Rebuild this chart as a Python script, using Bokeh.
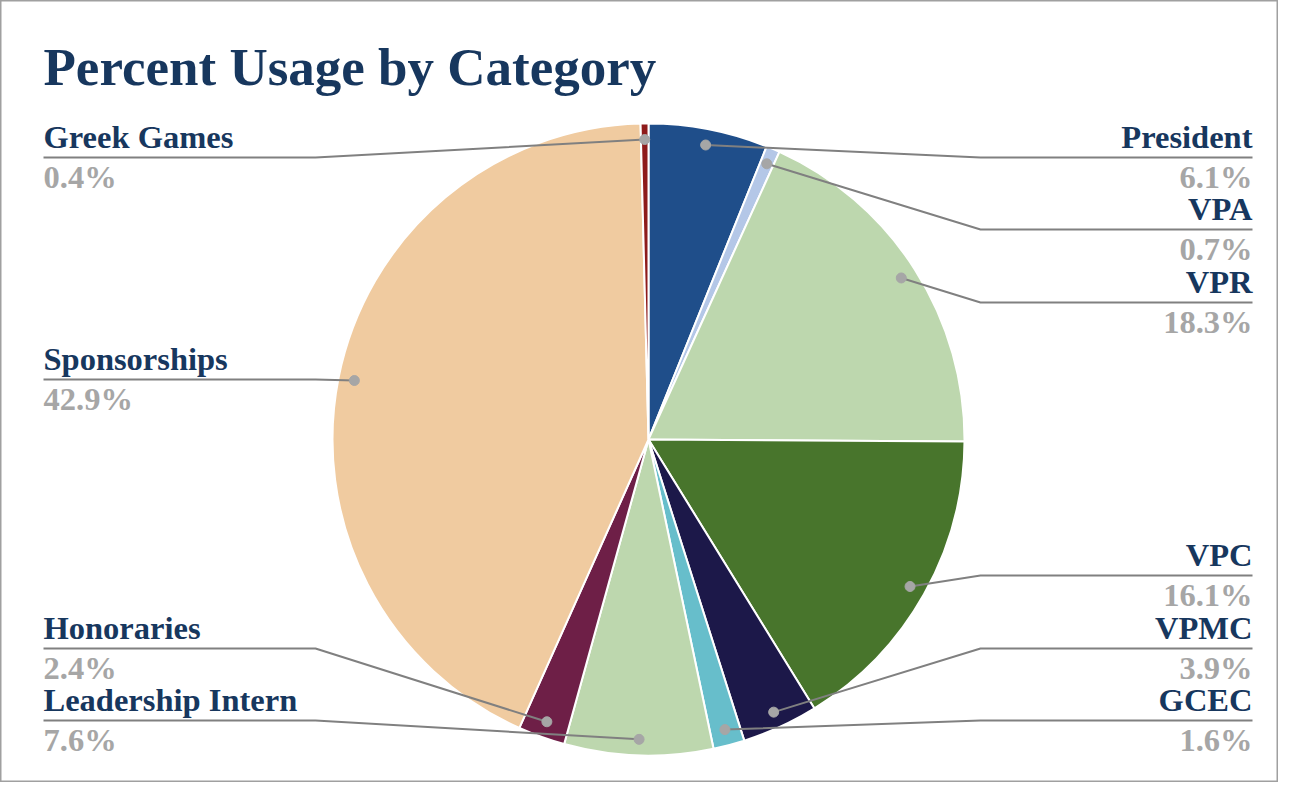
import math
from bokeh.plotting import figure
from bokeh.models import Range1d
from bokeh.core.properties import value
from bokeh.embed import file_html
from bokeh.resources import INLINE

# ---- data ----
categories = ["President", "VPA", "VPR", "VPC", "VPMC", "GCEC",
              "Leadership Intern", "Honoraries", "Sponsorships", "Greek Games"]
percents = [6.1, 0.7, 18.3, 16.1, 3.9, 1.6, 7.6, 2.4, 42.9, 0.4]
colors = ["#1F4E8A", "#B4C7E7", "#BDD7AE", "#48752C", "#1C1849", "#67BECB",
          "#BDD7AE", "#6E1F47", "#F0CBA0", "#8E1B1B"]
title_text = "Percent Usage by Category"

# ---- layout (reference pixel space, y downwards) ----
H = 798
CX, CY, R, R_DOT = 648, 439, 316, 300
label_side = ["right", "right", "right", "right", "right", "right",
              "left", "left", "left", "left"]
underline_y = [157, 229, 302, 575, 648, 720, 720, 648, 379, 157]
LEFT_X, LEFT_ELBOW = 43, 315
RIGHT_X, RIGHT_ELBOW = 1252, 980
LABEL_SIZE = 32.5
TITLE_SIZE = 53
BASE_SHIFT = 0.33  # empirical baseline correction (em)

NAME_COLOR = "#17375E"
VALUE_COLOR = "#A6A6A6"
LINE_COLOR = "#808080"
FONT = "Liberation Serif"


def Y(y):
    return H - y


def TY(baseline, size):
    return Y(baseline - BASE_SHIFT * size)


p = figure(width=1278, height=782, output_backend="svg", toolbar_location=None,
           x_range=Range1d(0, 1278), y_range=Range1d(16, 798),
           x_axis_location=None, y_axis_location=None, min_border=0)
p.xgrid.visible = False
p.ygrid.visible = False
p.outline_line_color = "#A0A0A0"
p.outline_line_width = 2
p.background_fill_color = "white"
p.border_fill_color = "white"

# ---- pie ----
total = sum(percents)
starts, ends, mids = [], [], []
cum = 0.0
for v in percents:
    f0 = cum / total
    cum += v
    f1 = cum / total
    starts.append(math.pi / 2 - 2 * math.pi * f0)
    ends.append(math.pi / 2 - 2 * math.pi * f1)
    mids.append(2 * math.pi * (f0 + f1) / 2)  # clockwise from top

p.wedge(x=[CX] * len(percents), y=[Y(CY)] * len(percents), radius=R,
        start_angle=starts, end_angle=ends, direction="clock",
        fill_color=colors, line_color="white", line_width=2)

# ---- leader lines & dots ----
dot_x = [CX + R_DOT * math.sin(m) for m in mids]
dot_y = [Y(CY) + R_DOT * math.cos(m) for m in mids]

xs, ys = [], []
for i in range(len(categories)):
    uy = Y(underline_y[i])
    if label_side[i] == "left":
        xs.append([LEFT_X, LEFT_ELBOW, dot_x[i]])
    else:
        xs.append([RIGHT_X, RIGHT_ELBOW, dot_x[i]])
    ys.append([uy, uy, dot_y[i]])
p.multi_line(xs=xs, ys=ys, line_color=LINE_COLOR, line_width=2)
p.scatter(x=dot_x, y=dot_y, size=10, fill_color="#A6A6A6", line_color="#A6A6A6")

# ---- labels ----
for side in ("left", "right"):
    idx = [i for i in range(len(categories)) if label_side[i] == side]
    lx = LEFT_X if side == "left" else RIGHT_X
    p.text(x=[lx] * len(idx), y=[TY(underline_y[i] - 10, LABEL_SIZE) for i in idx],
           text=[categories[i] for i in idx],
           text_font=value(FONT), text_font_style="bold",
           text_font_size=f"{LABEL_SIZE}px",
           text_color=NAME_COLOR, text_align=side, text_baseline="alphabetic")
    p.text(x=[lx] * len(idx), y=[TY(underline_y[i] + 30, LABEL_SIZE) for i in idx],
           text=[f"{percents[i]:.1f}%" for i in idx],
           text_font=value(FONT), text_font_style="bold",
           text_font_size=f"{LABEL_SIZE}px",
           text_color=VALUE_COLOR, text_align=side, text_baseline="alphabetic")

# ---- title ----
p.text(x=[43], y=[TY(84, TITLE_SIZE)], text=[title_text], text_font=value(FONT),
       text_font_style="bold", text_font_size=f"{TITLE_SIZE}px",
       text_color=NAME_COLOR, text_align="left", text_baseline="alphabetic")

open("out.html", "w").write(file_html(p, INLINE))
